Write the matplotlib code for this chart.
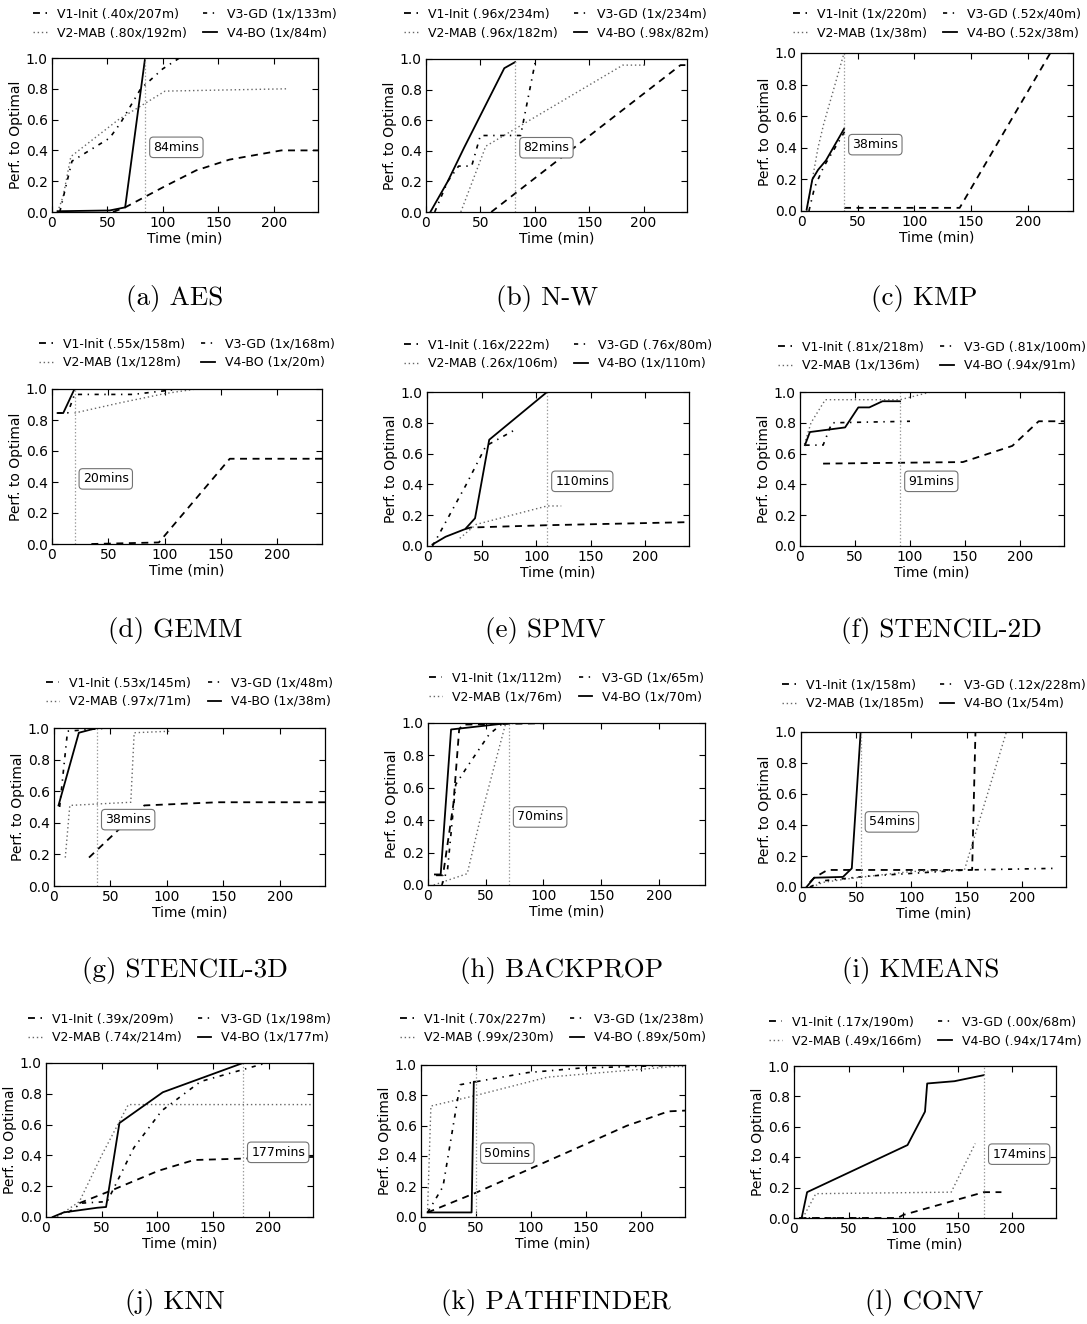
import matplotlib
matplotlib.use("Agg")
import matplotlib.pyplot as plt

W, H = 1087, 1324

# ---------------- data ----------------
panel_names = ["(a) AES", "(b) N-W", "(c) KMP", "(d) GEMM", "(e) SPMV", "(f) STENCIL-2D",
               "(g) STENCIL-3D", "(h) BACKPROP", "(i) KMEANS", "(j) KNN", "(k) PATHFINDER", "(l) CONV"]
bo_minutes = [84, 82, 38, 20, 110, 91, 38, 70, 54, 177, 50, 174]

legend_labels = [
    ["V1-Init (.40x/207m)", "V2-MAB (.80x/192m)", "V3-GD (1x/133m)", "V4-BO (1x/84m)"],
    ["V1-Init (.96x/234m)", "V2-MAB (.96x/182m)", "V3-GD (1x/234m)", "V4-BO (.98x/82m)"],
    ["V1-Init (1x/220m)", "V2-MAB (1x/38m)", "V3-GD (.52x/40m)", "V4-BO (.52x/38m)"],
    ["V1-Init (.55x/158m)", "V2-MAB (1x/128m)", "V3-GD (1x/168m)", "V4-BO (1x/20m)"],
    ["V1-Init (.16x/222m)", "V2-MAB (.26x/106m)", "V3-GD (.76x/80m)", "V4-BO (1x/110m)"],
    ["V1-Init (.81x/218m)", "V2-MAB (1x/136m)", "V3-GD (.81x/100m)", "V4-BO (.94x/91m)"],
    ["V1-Init (.53x/145m)", "V2-MAB (.97x/71m)", "V3-GD (1x/48m)", "V4-BO (1x/38m)"],
    ["V1-Init (1x/112m)", "V2-MAB (1x/76m)", "V3-GD (1x/65m)", "V4-BO (1x/70m)"],
    ["V1-Init (1x/158m)", "V2-MAB (1x/185m)", "V3-GD (.12x/228m)", "V4-BO (1x/54m)"],
    ["V1-Init (.39x/209m)", "V2-MAB (.74x/214m)", "V3-GD (1x/198m)", "V4-BO (1x/177m)"],
    ["V1-Init (.70x/227m)", "V2-MAB (.99x/230m)", "V3-GD (1x/238m)", "V4-BO (.89x/50m)"],
    ["V1-Init (.17x/190m)", "V2-MAB (.49x/166m)", "V3-GD (.00x/68m)", "V4-BO (.94x/174m)"],
]

# (a) AES
aes_init_t = [55, 66, 100, 130, 160, 207, 240]
aes_init_p = [0.0, 0.03, 0.16, 0.27, 0.34, 0.40, 0.40]
aes_mab_t = [5, 10, 17, 60, 102, 212]
aes_mab_p = [0.0, 0.1, 0.36, 0.6, 0.785, 0.80]
aes_gd_t = [7, 18, 52, 62, 80, 100, 115, 133]
aes_gd_p = [0.0, 0.33, 0.48, 0.58, 0.8, 0.93, 1.0, 1.0]
aes_bo_t = [5, 52, 66, 84]
aes_bo_p = [0.005, 0.01, 0.03, 1.0]

# (b) N-W
nw_init_t = [60, 234, 240]
nw_init_p = [0.0, 0.96, 0.96]
nw_mab_t = [32, 55, 181, 202]
nw_mab_p = [0.0, 0.43, 0.96, 0.96]
nw_gd_t = [8, 20, 30, 42, 50, 87, 101, 234]
nw_gd_p = [0.0, 0.2, 0.3, 0.3, 0.5, 0.5, 1.0, 1.0]
nw_bo_t = [4, 20, 35, 72, 82]
nw_bo_p = [0.0, 0.2, 0.42, 0.94, 0.98]

# (c) KMP
kmp_init_t = [38, 140, 220, 240]
kmp_init_p = [0.02, 0.02, 1.0, 1.0]
kmp_mab_t = [5, 15, 20, 38, 45]
kmp_mab_p = [0.0, 0.4, 0.55, 1.0, 1.0]
kmp_gd_t = [7, 12, 20, 30, 40]
kmp_gd_p = [0.0, 0.15, 0.28, 0.4, 0.52]
kmp_bo_t = [5, 10, 15, 22, 38]
kmp_bo_p = [0.01, 0.2, 0.26, 0.32, 0.52]

# (d) GEMM
gemm_init_t = [35, 95, 158, 240]
gemm_init_p = [0.0, 0.01, 0.55, 0.55]
gemm_mab_t = [20, 60, 100, 128, 160]
gemm_mab_p = [0.845, 0.91, 0.97, 1.0, 1.0]
gemm_gd_t = [5, 14, 20, 72, 114, 168]
gemm_gd_p = [0.845, 0.845, 0.965, 0.965, 1.0, 1.0]
gemm_bo_t = [5, 10, 20]
gemm_bo_p = [0.845, 0.845, 1.0]

# (e) SPMV
spmv_init_t = [35, 40, 110, 240]
spmv_init_p = [0.11, 0.12, 0.135, 0.155]
spmv_mab_t = [30, 45, 110, 123]
spmv_mab_p = [0.05, 0.14, 0.26, 0.26]
spmv_gd_t = [5, 9, 36, 54, 82]
spmv_gd_p = [0.0, 0.05, 0.4, 0.65, 0.76]
spmv_bo_t = [5, 17, 35, 44, 57, 110]
spmv_bo_p = [0.01, 0.06, 0.11, 0.18, 0.69, 1.0]

# (f) STENCIL-2D
st2_init_t = [21, 148, 193, 217, 240]
st2_init_p = [0.535, 0.545, 0.65, 0.81, 0.81]
st2_mab_t = [4, 10, 23, 91, 119, 136]
st2_mab_p = [0.66, 0.8, 0.95, 0.95, 1.0, 1.0]
st2_gd_t = [5, 21, 29, 100]
st2_gd_p = [0.655, 0.655, 0.8, 0.81]
st2_bo_t = [4.5, 9, 41, 53, 63, 75, 91]
st2_bo_p = [0.655, 0.74, 0.77, 0.9, 0.9, 0.94, 0.94]

# (g) STENCIL-3D
st3_init_t = [31, 80, 145, 240]
st3_init_p = [0.18, 0.51, 0.53, 0.53]
st3_mab_t = [10, 14, 68, 71, 104]
st3_mab_p = [0.18, 0.51, 0.53, 0.97, 0.98]
st3_gd_t = [5, 12, 48]
st3_gd_p = [0.5, 0.98, 1.0]
st3_bo_t = [4, 22, 38]
st3_bo_p = [0.51, 0.97, 1.0]

# (h) BACKPROP
bp_init_t = [7, 13, 22, 27, 30, 112]
bp_init_p = [0.06, 0.06, 0.5, 0.96, 0.99, 1.0]
bp_mab_t = [5, 34, 45, 67, 76]
bp_mab_p = [0.0, 0.07, 0.4, 0.99, 1.0]
bp_gd_t = [12, 17, 24, 34, 53, 65]
bp_gd_p = [0.0, 0.1, 0.62, 0.73, 0.93, 1.0]
bp_bo_t = [6, 11, 20, 70]
bp_bo_p = [0.065, 0.065, 0.96, 1.0]

# (i) KMEANS
km_init_t = [8, 12, 24, 155, 158, 240]
km_init_p = [0.03, 0.06, 0.11, 0.11, 1.0, 1.0]
km_mab_t = [10, 20, 50, 100, 148, 186, 240]
km_mab_p = [0.0, 0.03, 0.06, 0.1, 0.11, 1.0, 1.0]
km_gd_t = [8, 20, 60, 150, 228]
km_gd_p = [0.0, 0.04, 0.07, 0.11, 0.12]
km_bo_t = [5, 12, 38, 46, 54]
km_bo_p = [0.0, 0.06, 0.065, 0.12, 1.0]

# (j) KNN
knn_init_t = [30, 58, 101, 133, 180, 240]
knn_init_p = [0.09, 0.17, 0.3, 0.37, 0.38, 0.39]
knn_mab_t = [10, 30, 50, 74, 240]
knn_mab_p = [0.0, 0.1, 0.4, 0.73, 0.73]
knn_gd_t = [20, 32, 55, 79, 104, 139, 198]
knn_gd_p = [0.03, 0.09, 0.1, 0.45, 0.69, 0.88, 1.0]
knn_bo_t = [6, 16, 46, 54, 66, 105, 177]
knn_bo_p = [0.0, 0.03, 0.06, 0.065, 0.61, 0.81, 1.0]

# (k) PATHFINDER
pf_init_t = [6, 50, 97, 150, 187, 225, 240]
pf_init_p = [0.03, 0.16, 0.31, 0.48, 0.6, 0.695, 0.70]
pf_mab_t = [6, 9, 50, 115, 230, 240]
pf_mab_p = [0.05, 0.73, 0.8, 0.92, 0.99, 0.99]
pf_gd_t = [6, 20, 35.5, 50, 97, 145, 238]
pf_gd_p = [0.03, 0.2, 0.87, 0.89, 0.95, 0.98, 1.0]
pf_bo_t = [6, 46, 48, 50]
pf_bo_p = [0.03, 0.03, 0.89, 0.89]

# (l) CONV
conv_init_t = [5, 95, 100, 174, 190]
conv_init_p = [0.0, 0.0, 0.02, 0.17, 0.17]
conv_mab_t = [8, 20, 144, 166]
conv_mab_p = [0.0, 0.16, 0.17, 0.49]
conv_gd_t = [5, 68]
conv_gd_p = [0.0, 0.0]
conv_bo_t = [7, 12, 104, 120, 122, 147, 174]
conv_bo_p = [0.0, 0.17, 0.48, 0.7, 0.885, 0.9, 0.94]

series = [
    [(aes_init_t, aes_init_p), (aes_mab_t, aes_mab_p), (aes_gd_t, aes_gd_p), (aes_bo_t, aes_bo_p)],
    [(nw_init_t, nw_init_p), (nw_mab_t, nw_mab_p), (nw_gd_t, nw_gd_p), (nw_bo_t, nw_bo_p)],
    [(kmp_init_t, kmp_init_p), (kmp_mab_t, kmp_mab_p), (kmp_gd_t, kmp_gd_p), (kmp_bo_t, kmp_bo_p)],
    [(gemm_init_t, gemm_init_p), (gemm_mab_t, gemm_mab_p), (gemm_gd_t, gemm_gd_p), (gemm_bo_t, gemm_bo_p)],
    [(spmv_init_t, spmv_init_p), (spmv_mab_t, spmv_mab_p), (spmv_gd_t, spmv_gd_p), (spmv_bo_t, spmv_bo_p)],
    [(st2_init_t, st2_init_p), (st2_mab_t, st2_mab_p), (st2_gd_t, st2_gd_p), (st2_bo_t, st2_bo_p)],
    [(st3_init_t, st3_init_p), (st3_mab_t, st3_mab_p), (st3_gd_t, st3_gd_p), (st3_bo_t, st3_bo_p)],
    [(bp_init_t, bp_init_p), (bp_mab_t, bp_mab_p), (bp_gd_t, bp_gd_p), (bp_bo_t, bp_bo_p)],
    [(km_init_t, km_init_p), (km_mab_t, km_mab_p), (km_gd_t, km_gd_p), (km_bo_t, km_bo_p)],
    [(knn_init_t, knn_init_p), (knn_mab_t, knn_mab_p), (knn_gd_t, knn_gd_p), (knn_bo_t, knn_bo_p)],
    [(pf_init_t, pf_init_p), (pf_mab_t, pf_mab_p), (pf_gd_t, pf_gd_p), (pf_bo_t, pf_bo_p)],
    [(conv_init_t, conv_init_p), (conv_mab_t, conv_mab_p), (conv_gd_t, conv_gd_p), (conv_bo_t, conv_bo_p)],
]

# ---------------- layout (pixels) ----------------
axes_px = [  # left, top, right, bottom
    (52, 58, 318, 212), (426, 59, 687, 212), (801, 53, 1073, 211),
    (52, 389, 322, 544), (427, 392, 689, 546), (800, 392, 1064, 546),
    (54, 728, 325, 886), (428, 723, 705, 885), (801, 732, 1066, 887),
    (46, 1063, 313, 1217), (421, 1065, 685, 1217), (794, 1066, 1056, 1218),
]
legend_row2_px = [32, 32, 32, 362, 363, 365, 701, 696, 703, 1037, 1037, 1040]
caption_px = [(175, 298), (547, 298), (924, 298),
              (175, 631), (545, 631), (941, 631),
              (185, 971), (562, 971), (921, 971),
              (175, 1302), (556, 1302), (924, 1302)]

styles = [
    dict(color="black", lw=1.3, linestyle=(0, (5, 4))),
    dict(color="0.4", lw=1.0, linestyle=(0, (1, 2))),
    dict(color="black", lw=1.2, linestyle=(0, (3, 4, 1, 4))),
    dict(color="black", lw=1.3, linestyle="-"),
]

plt.rcParams["font.family"] = "DejaVu Sans"
plt.rcParams["lines.scale_dashes"] = False

fig = plt.figure(figsize=(W / 100, H / 100), dpi=100)

for i in range(12):
    l, t, r, b = axes_px[i]
    ax = fig.add_axes([l / W, 1 - b / H, (r - l) / W, (b - t) / H])
    handles = []
    for (ts, ps), st, lab in zip(series[i], styles, legend_labels[i]):
        h, = ax.plot(ts, ps, label=lab, **st)
        handles.append(h)
    vx = bo_minutes[i]
    ax.plot([vx, vx], [0, 1], color="0.6", lw=0.9, linestyle=(0, (1, 1.5)))
    ax.annotate(f"{vx}mins", xy=(vx, 0.42), xytext=(6, 0), textcoords="offset points",
                ha="left", va="center", fontsize=9,
                bbox=dict(boxstyle="round,pad=0.3", fc="white", ec="0.45", lw=0.8))
    ax.set_xlim(0, 240)
    ax.set_ylim(0, 1.0)
    ax.set_xticks([0, 50, 100, 150, 200])
    ax.set_yticks([0.0, 0.2, 0.4, 0.6, 0.8, 1.0])
    ax.set_yticklabels(["0.0", "0.2", "0.4", "0.6", "0.8", "1.0"])
    ax.tick_params(direction="in", top=True, right=True, labelsize=10, length=4, width=0.8, pad=3)
    for sp in ax.spines.values():
        sp.set_linewidth(0.9)
    ax.set_xlabel("Time (min)", fontsize=10, labelpad=1)
    ax.set_ylabel("Perf. to Optimal", fontsize=10, labelpad=2)
    cx = (l + r) / 2
    ax.legend(handles=handles, ncol=2, loc="lower center",
              bbox_to_anchor=(cx / W, 1 - (legend_row2_px[i] + 7) / H), bbox_transform=fig.transFigure,
              frameon=False, fontsize=9, handlelength=1.1, handletextpad=0.8,
              columnspacing=1.3, labelspacing=0.45, borderpad=0, borderaxespad=0)
    fx, fy = caption_px[i]
    fig.text(fx / W, 1 - fy / H, panel_names[i], ha="center", va="center",
             fontsize=19.5, family="cmr10")

fig.savefig("out.png", dpi=100)
